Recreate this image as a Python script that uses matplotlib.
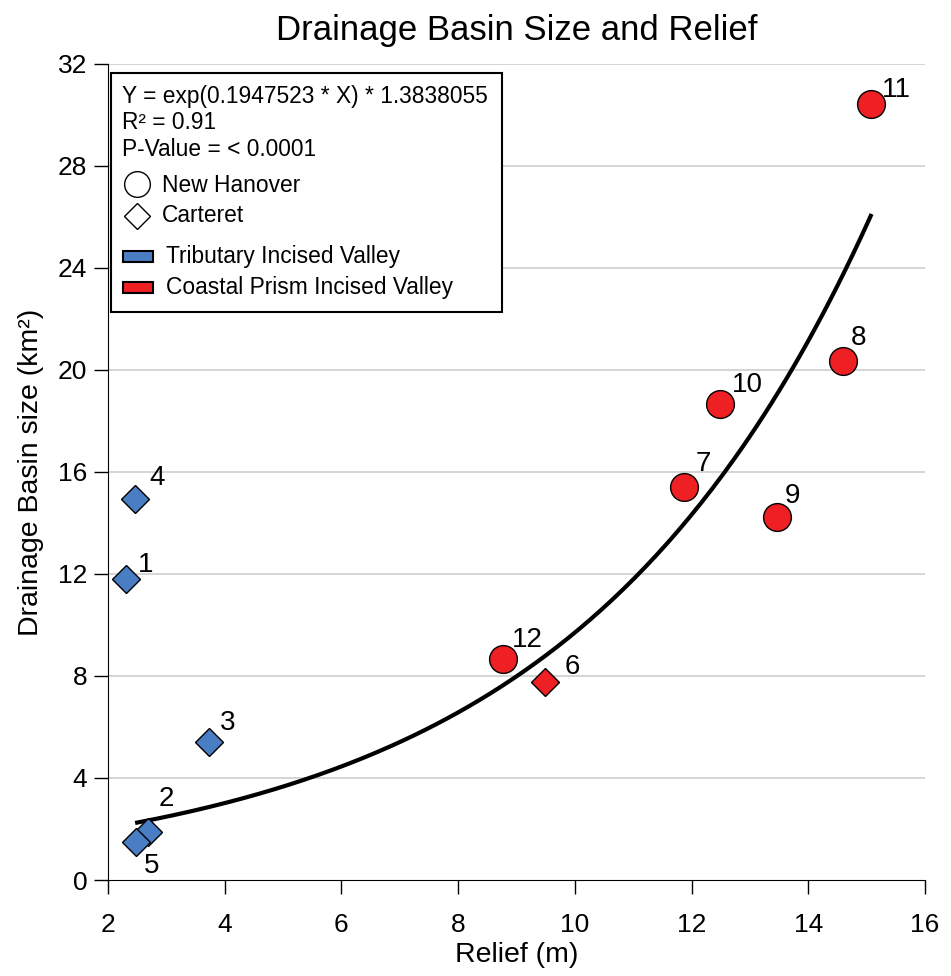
import matplotlib.pyplot as plt
from matplotlib.lines import Line2D
from matplotlib.patches import Rectangle
import numpy as np

plt.rcParams["font.family"] = ["Liberation Sans", "DejaVu Sans"]

# Data
ids = [1, 2, 3, 4, 5, 6, 7, 8, 9, 10, 11, 12]
relief = [2.31, 2.69, 3.73, 2.46, 2.48, 9.49, 11.87, 14.59, 13.46, 12.49, 15.07, 8.77]
basin_size = [11.79, 1.88, 5.41, 14.96, 1.49, 7.76, 15.43, 20.37, 14.22, 18.68, 30.43, 8.66]
county = ["C", "C", "C", "C", "C", "C", "N", "N", "N", "N", "N", "N"]  # N = New Hanover, C = Carteret
valley = ["T", "T", "T", "T", "T", "P", "P", "P", "P", "P", "P", "P"]  # T = tributary, P = coastal prism

fit_a = 0.1947523
fit_b = 1.3838055
fit_range = (2.5, 15.07)

blue = "#4a7ec4"
red = "#ee2024"

# label offsets in pixels (dx, dy)
offsets = {1: (20, 14), 2: (18, 33), 3: (19, 19), 4: (22, 21), 5: (16, -24), 6: (27, 15),
           7: (19, 23), 8: (16, 23), 9: (16, 21), 10: (27, 19), 11: (26, 14), 12: (24, 19)}

fig = plt.figure(figsize=(9.51, 9.76), dpi=100)
ax = fig.add_axes([0.11356, 0.09836, 0.8591, 0.8361])

for y in range(4, 33, 4):
    ax.axhline(y, color="#d4d4d4", lw=1.4, zorder=0)

xs = np.linspace(fit_range[0], fit_range[1], 200)
ax.plot(xs, np.exp(fit_a * xs) * fit_b, color="black", lw=3, zorder=2)

for i in range(len(ids)):
    c = blue if valley[i] == "T" else red
    if county[i] == "N":
        ax.plot(relief[i], basin_size[i], "o", ms=20, mfc=c, mec="black", mew=1, zorder=3)
    else:
        ax.plot(relief[i], basin_size[i], "D", ms=14, mfc=c, mec="black", mew=1, zorder=3)
    dx, dy = offsets[ids[i]]
    ax.annotate(str(ids[i]), (relief[i], basin_size[i]), xytext=(dx, dy),
                textcoords="offset pixels", ha="center", va="center", fontsize=20)

ax.set_xlim(2, 16)
ax.set_ylim(0, 32)
ax.set_xticks(range(2, 17, 2))
ax.set_yticks(range(0, 33, 4))
ax.tick_params(direction="out", length=10, width=1, labelsize=19)
ax.tick_params(axis="x", pad=14)
ax.tick_params(axis="y", pad=5)
ax.spines["top"].set_visible(False)
ax.spines["right"].set_visible(False)
ax.set_xlabel("Relief (m)", fontsize=20.5, labelpad=3)
ax.set_ylabel("Drainage Basin size (km²)", fontsize=20.5, labelpad=10)
ax.set_title("Drainage Basin Size and Relief", fontsize=25, pad=17)

# legend box
tr = ax.transAxes
H = 816.0
W = 817.0
def ay(ypix):
    return (880 - ypix) / H
def ax_(xpix):
    return (xpix - 108) / W

ax.add_patch(Rectangle((ax_(111), ay(312)), ax_(502) - ax_(111), ay(73) - ay(312), transform=tr,
                       fc="white", ec="black", lw=1.5, zorder=5))
lines = ["Y = exp(0.1947523 * X) * 1.3838055", "R² = 0.91", "P-Value = < 0.0001"]
for txt, ypix in zip(lines, [97, 123, 150]):
    ax.text(ax_(122), ay(ypix), txt, transform=tr, fontsize=16.4, va="center", zorder=6)

ax.add_line(Line2D([ax_(137)], [ay(184)], marker="o", ms=18.5, mfc="white", mec="black",
                   mew=1, transform=tr, zorder=6))
ax.text(ax_(162), ay(186), "New Hanover", transform=tr, fontsize=16.4, va="center", zorder=6)
ax.add_line(Line2D([ax_(137)], [ay(216)], marker="D", ms=13.5, mfc="white", mec="black",
                   mew=1, transform=tr, zorder=6))
ax.text(ax_(162), ay(216), "Carteret", transform=tr, fontsize=16.4, va="center", zorder=6)
for c, txt, ypix in [(blue, "Tributary Incised Valley", 257), (red, "Coastal Prism Incised Valley", 288)]:
    ax.add_patch(Rectangle((ax_(123), ay(ypix + 5.5)), ax_(153) - ax_(123), 11 / H, transform=tr,
                           fc=c, ec="black", lw=1.5, zorder=6))
    ax.text(ax_(166), ay(ypix), txt, transform=tr, fontsize=16.4, va="center", zorder=6)

plt.savefig("out.png", dpi=100)
